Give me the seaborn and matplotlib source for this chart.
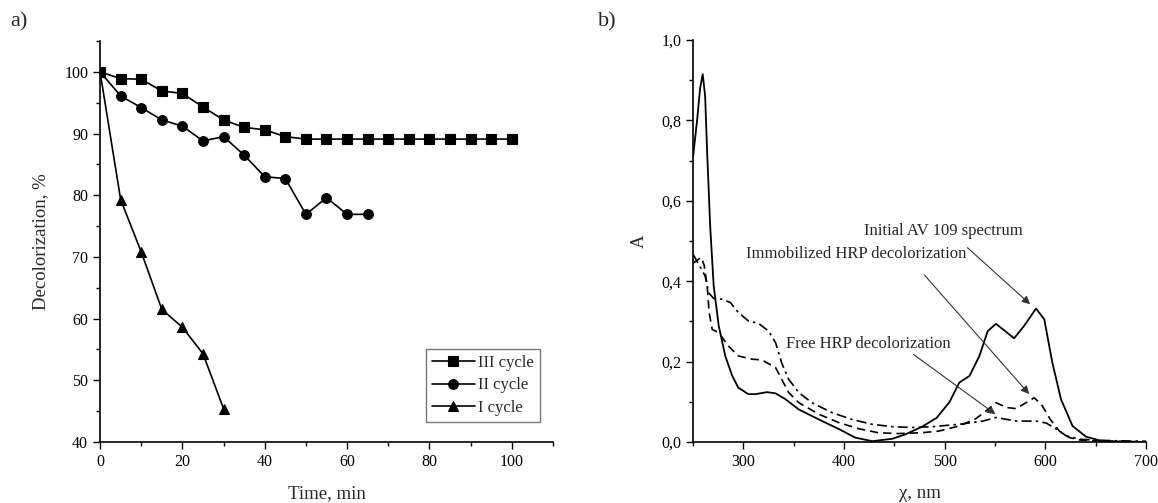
"""Decolorization kinetics (a) and UV-Vis spectra (b)."""

import matplotlib
matplotlib.use("Agg")
import matplotlib.pyplot as plt
from matplotlib.ticker import MultipleLocator, FuncFormatter
import pandas as pd
import seaborn as sns

# %% data, panel a
time_iii = [0, 5, 10, 15, 20, 25, 30, 35, 40, 45, 50, 55, 60, 65, 70, 75, 80, 85, 90, 95, 100]
decol_iii = [100, 98.9, 98.8, 96.9, 96.5, 94.3, 92.2, 91.0, 90.6, 89.5, 89.1,
             89.1, 89.1, 89.1, 89.1, 89.1, 89.1, 89.1, 89.1, 89.1, 89.1]
time_ii = [0, 5, 10, 15, 20, 25, 30, 35, 40, 45, 50, 55, 60, 65]
decol_ii = [100, 96.1, 94.2, 92.2, 91.2, 88.8, 89.5, 86.5, 83.0, 82.7, 76.9, 79.6, 76.9, 76.9]
time_i = [0, 5, 10, 15, 20, 25, 30]
decol_i = [100, 79.3, 70.8, 61.5, 58.6, 54.3, 45.4]

# %% data, panel b
wl_initial = [250, 254, 257, 259.6, 262, 264, 267, 270.5, 275.5, 282, 289, 295, 305, 312,
              323.5, 332, 342, 355, 375, 395, 411, 428, 448, 461, 477.5, 492, 504.7,
              514.6, 524.6, 534.5, 542.8, 551, 561, 569, 579, 590.8, 599, 607, 615.6,
              627, 640.5, 657, 670, 700]
abs_initial = [0.71, 0.80, 0.88, 0.915, 0.86, 0.72, 0.537, 0.388, 0.289, 0.214, 0.164,
               0.135, 0.119, 0.119, 0.124, 0.121, 0.106, 0.081, 0.056, 0.032, 0.011,
               0.002, 0.008, 0.019, 0.038, 0.06, 0.099, 0.148, 0.164, 0.214, 0.276,
               0.294, 0.274, 0.258, 0.289, 0.332, 0.305, 0.197, 0.106, 0.04, 0.013,
               0.002, 0.001, 0.0]
wl_immob = [250, 254, 258, 261, 264, 266, 269, 275.5, 285, 295, 308.6, 318.5, 332, 338,
            345, 355, 375, 395, 414.6, 434, 454, 477, 494, 514.6, 531, 541, 551, 561,
            571, 581, 589, 597, 605, 614, 624, 634, 650, 700]
abs_immob = [0.445, 0.452, 0.459, 0.44, 0.388, 0.322, 0.28, 0.272, 0.239, 0.214, 0.206,
             0.204, 0.185, 0.156, 0.123, 0.098, 0.069, 0.048, 0.033, 0.023, 0.021,
             0.023, 0.027, 0.04, 0.058, 0.077, 0.098, 0.086, 0.083, 0.098, 0.110,
             0.09, 0.056, 0.027, 0.011, 0.005, 0.003, 0.0]
wl_free = [250, 255.6, 262, 265.6, 270.5, 279, 287, 295, 305, 315, 325, 332, 338, 345,
           355, 368, 388, 408, 428, 448, 467.5, 487, 514.6, 538, 551, 571, 591, 601,
           611, 621, 634, 647, 670, 700]
abs_free = [0.467, 0.442, 0.413, 0.371, 0.357, 0.355, 0.347, 0.322, 0.301, 0.295, 0.276,
            0.247, 0.197, 0.156, 0.123, 0.098, 0.073, 0.056, 0.044, 0.038, 0.036,
            0.038, 0.044, 0.052, 0.061, 0.052, 0.052, 0.047, 0.032, 0.015, 0.007,
            0.005, 0.003, 0.002]

# %% style
sns.set_style("ticks")
plt.rcParams["font.family"] = ["Liberation Serif", "DejaVu Serif"]
for k in ("xtick", "ytick"):
    plt.rcParams[f"{k}.major.size"] = 5
    plt.rcParams[f"{k}.minor.size"] = 3
    plt.rcParams[f"{k}.major.width"] = 1.0
    plt.rcParams[f"{k}.minor.width"] = 1.0
    plt.rcParams[f"{k}.color"] = "black"
    plt.rcParams[f"{k}.labelsize"] = 11.5
plt.rcParams["axes.edgecolor"] = "black"
plt.rcParams["axes.linewidth"] = 1.2

fig = plt.figure(figsize=(11.58, 5.03), dpi=100)
ax_a = fig.add_axes([0.0864, 0.1213, 0.3911, 0.7972])
ax_b = fig.add_axes([0.5985, 0.1213, 0.3911, 0.7992])

# %% panel a
line_kw = dict(color="black", linewidth=1.2, markeredgecolor="black",
               markeredgewidth=0.8, markersize=7)
sns.lineplot(x=time_iii, y=decol_iii, marker="s", label="III cycle", ax=ax_a, **line_kw)
sns.lineplot(x=time_ii, y=decol_ii, marker="o", label="II cycle", ax=ax_a, **line_kw)
sns.lineplot(x=time_i, y=decol_i, marker="^", label="I cycle", ax=ax_a, **line_kw)
ax_a.set_xlim(0, 110)
ax_a.set_ylim(40, 105)
ax_a.xaxis.set_major_locator(MultipleLocator(20))
ax_a.xaxis.set_minor_locator(MultipleLocator(10))
ax_a.yaxis.set_major_locator(MultipleLocator(10))
ax_a.yaxis.set_minor_locator(MultipleLocator(5))
ax_a.set_xlabel("Time, min", fontsize=13.5, labelpad=11)
ax_a.set_ylabel("Decolorization, %", fontsize=13.5, labelpad=11)
ax_a.legend(loc="lower right", bbox_to_anchor=(0.971, 0.051), borderaxespad=0,
            fontsize=12, frameon=True, fancybox=False, edgecolor="#555555",
            handlelength=2.6, labelspacing=0.38, handletextpad=0.2, borderpad=0.35)
ax_a.get_legend().get_frame().set_linewidth(1.0)
sns.despine(ax=ax_a)

# %% panel b
sns.lineplot(x=wl_initial, y=abs_initial, color="black", linewidth=1.3,
             linestyle="-", ax=ax_b, sort=False)
sns.lineplot(x=wl_immob, y=abs_immob, color="black", linewidth=1.2,
             linestyle=(0, (5, 3)), ax=ax_b, sort=False)
sns.lineplot(x=wl_free, y=abs_free, color="black", linewidth=1.2,
             linestyle=(0, (6, 2.5, 1.5, 2.5)), ax=ax_b, sort=False)
ax_b.set_xlim(250, 700)
ax_b.set_ylim(0, 1.0)
ax_b.xaxis.set_major_locator(MultipleLocator(100))
ax_b.xaxis.set_minor_locator(MultipleLocator(50))
ax_b.yaxis.set_major_locator(MultipleLocator(0.2))
ax_b.yaxis.set_minor_locator(MultipleLocator(0.1))
ax_b.yaxis.set_major_formatter(FuncFormatter(lambda v, p: f"{v:.1f}".replace(".", ",")))
ax_b.set_xlabel("χ, nm", fontsize=13.5, labelpad=11)
ax_b.set_ylabel("A", fontsize=13.5, labelpad=10)
sns.despine(ax=ax_b)

arrow = dict(arrowstyle="-|>", color="#333333", lw=0.8, mutation_scale=12)
ax_b.text(498.8, 0.524, "Initial AV 109 spectrum", fontsize=12, ha="center", va="center")
ax_b.annotate("", xy=(587, 0.338), xytext=(520.6, 0.488), arrowprops=arrow)
ax_b.text(412.4, 0.467, "Immobilized HRP decolorization", fontsize=12, ha="center", va="center")
ax_b.annotate("", xy=(585.8, 0.114), xytext=(477.9, 0.421), arrowprops=arrow)
ax_b.text(423.8, 0.243, "Free HRP decolorization", fontsize=12, ha="center", va="center")
ax_b.annotate("", xy=(552.7, 0.065), xytext=(466.7, 0.222), arrowprops=arrow)

fig.text(10 / 1158, 1 - 22 / 503, "a)", fontsize=16, va="center", ha="left")
fig.text(598 / 1158, 1 - 22 / 503, "b)", fontsize=16, va="center", ha="left")

fig.savefig("out.png", dpi=100)
